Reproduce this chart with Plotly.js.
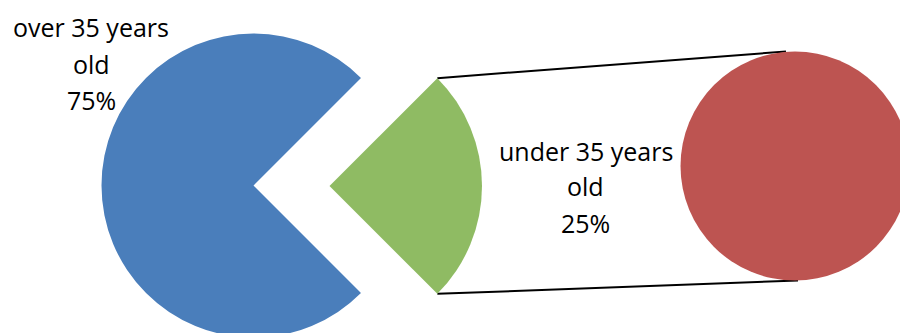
<!DOCTYPE html>
<html>
<head>
<meta charset="utf-8">
<script src="https://cdn.plot.ly/plotly-3.0.1.min.js"></script>
<style>
  html, body { margin: 0; padding: 0; width: 900px; height: 333px; overflow: hidden; background: #fff; }
  #chart { width: 920px; height: 345px; }
</style>
</head>
<body>
<div id="chart"></div>
<script>
// ---- data ----
const categories = ['over 35 years old', 'under 35 years old'];
const shares = [75, 25];
const labelFirstLines = ['over 35 years', 'under 35 years'];
const labelSecondLines = ['old', 'old'];
const colors = ['#4a7ebb', '#8fbb63', '#bd5451'];

// ---- layout geometry (pixels in the drawing area) ----
const W = 920, H = 345;
const mainPie = { cx: 253.5, cy: 185.5, r: 152 };
const pulledSlice = { cx: 329.5, cy: 186, r: 152.5 };
const secondPie = { cx: 795, cy: 166, r: 114.5 };

function domainOf(g) {
  return {
    x: [(g.cx - g.r) / W, (g.cx + g.r) / W],
    y: [1 - (g.cy + g.r) / H, 1 - (g.cy - g.r) / H]
  };
}
const clear = 'rgba(0,0,0,0)';

const common = {
  type: 'pie', sort: false, direction: 'clockwise', rotation: 45,
  textinfo: 'none', hoverinfo: 'label+percent', showlegend: false
};

const traces = [
  Object.assign({}, common, {
    labels: [categories[1], categories[0]],
    values: [shares[1], shares[0]],
    marker: { colors: [clear, colors[0]], line: { width: 0 } },
    domain: domainOf(mainPie)
  }),
  Object.assign({}, common, {
    labels: [categories[1], categories[0]],
    values: [shares[1], shares[0]],
    marker: { colors: [colors[1], clear], line: { width: 0 } },
    domain: domainOf(pulledSlice)
  }),
  {
    type: 'pie', sort: false, textinfo: 'none', showlegend: false,
    labels: [categories[1]], values: [shares[1]],
    hoverinfo: 'label+percent',
    marker: { colors: [colors[2]], line: { width: 0 } },
    domain: domainOf(secondPie)
  }
];

// connector lines from the pulled slice corners to the second pie
const a = Math.PI / 4;
const p1 = [pulledSlice.cx + pulledSlice.r * Math.cos(a), pulledSlice.cy - pulledSlice.r * Math.sin(a)];
const p2 = [pulledSlice.cx + pulledSlice.r * Math.cos(a), pulledSlice.cy + pulledSlice.r * Math.sin(a)];
const q1 = [secondPie.cx - 9, secondPie.cy - secondPie.r];
const q2 = [secondPie.cx + 3, secondPie.cy + secondPie.r];
const toPaper = p => [p[0] / W, 1 - p[1] / H];
function line(p, q) {
  const P = toPaper(p), Q = toPaper(q);
  return { type: 'line', xref: 'paper', yref: 'paper', x0: P[0], y0: P[1], x1: Q[0], y1: Q[1],
           line: { color: '#000', width: 2 }, layer: 'below' };
}

// labels
const labelFont = { family: 'Open Sans, Noto Sans, sans-serif', size: 25, color: '#000' };
const labelAnchors = [{ x: 91, y: [27, 64, 99.5] }, { x: 585.5, y: [150.5, 185.5, 222.5] }];
const annotations = [];
for (let i = 0; i < 2; i++) {
  const lines = [labelFirstLines[i], labelSecondLines[i], shares[i] + '%'];
  lines.forEach((t, k) => {
    annotations.push({
      text: t, xref: 'paper', yref: 'paper',
      x: labelAnchors[i].x / W, y: 1 - labelAnchors[i].y[k] / H,
      xanchor: 'center', yanchor: 'middle', showarrow: false, font: labelFont
    });
  });
}

const layout = {
  width: W, height: H,
  margin: { l: 0, r: 0, t: 0, b: 0, pad: 0 },
  paper_bgcolor: '#fff', plot_bgcolor: '#fff',
  showlegend: false,
  shapes: [line(p1, q1), line(p2, q2)],
  annotations: annotations
};

Plotly.newPlot('chart', traces, layout, { displayModeBar: false, staticPlot: true });
</script>
</body>
</html>
